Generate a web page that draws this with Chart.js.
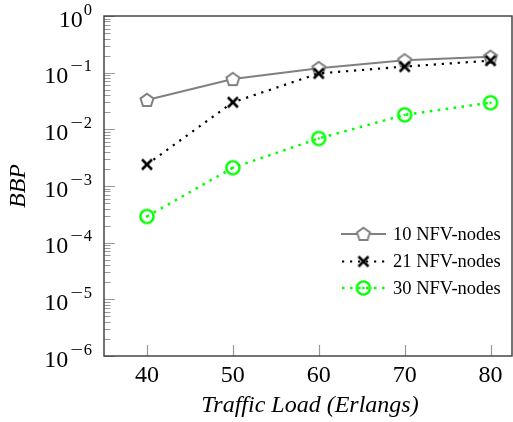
<!DOCTYPE html>
<html>
<head>
<meta charset="utf-8">
<script src="https://cdn.jsdelivr.net/npm/chart.js@4.4.1/dist/chart.umd.min.js"></script>
<style>html,body{margin:0;padding:0;background:#fff}</style>
</head>
<body>
<canvas id="c" width="513" height="422"></canvas>
<script>
const loads = [40, 50, 60, 70, 80];
const nfv10 = [0.033, 0.077, 0.12, 0.165, 0.19];
const nfv21 = [0.0024, 0.030, 0.097, 0.128, 0.163];
const nfv30 = [0.00029, 0.0021, 0.0069, 0.018, 0.0295];
const seriesNames = ['10 NFV-nodes', '21 NFV-nodes', '30 NFV-nodes'];
const xTicks = [40, 50, 60, 70, 80];
const yExponents = [-6, -5, -4, -3, -2, -1, 0];
const yMinor = [2, 3, 4, 5, 6, 7, 8, 9];

const SERIF = '"Liberation Serif", "Times New Roman", serif';

function markCanvas(draw) {
    const c = document.createElement('canvas');
    c.width = 22; c.height = 22;
    const g = c.getContext('2d');
    g.translate(11, 11);
    draw(g);
    return c;
}

const pentagon = markCanvas(g => {
    g.beginPath();
    for (let i = 0; i < 5; i++) {
        const a = -Math.PI / 2 + i * 2 * Math.PI / 5;
        g.lineTo(6.8 * Math.cos(a), 6.8 * Math.sin(a) + 0.6);
    }
    g.closePath();
    g.fillStyle = '#fff';
    g.fill();
    g.strokeStyle = '#808080';
    g.lineWidth = 2;
    g.stroke();
});

const cross = markCanvas(g => {
    g.strokeStyle = '#000';
    g.lineWidth = 2.6;
    g.beginPath();
    g.moveTo(-5, -5); g.lineTo(5, 5);
    g.moveTo(5, -5); g.lineTo(-5, 5);
    g.stroke();
});

const ring = markCanvas(g => {
    g.strokeStyle = '#00ff00';
    g.lineWidth = 2.4;
    g.beginPath();
    g.arc(0, 0, 6.6, 0, Math.PI * 2);
    g.stroke();
    g.fillStyle = '#00ff00';
    g.beginPath();
    g.arc(0, 0, 1.3, 0, Math.PI * 2);
    g.fill();
});

const styles = [
    { color: '#808080', width: 2, dash: [], mark: pentagon },
    { color: '#000000', width: 2.2, dash: [2.2, 5.8], mark: cross },
    { color: '#00ff00', width: 2.5, dash: [2.5, 5.5], mark: ring }
];
const values = [nfv10, nfv21, nfv30];

const datasets = values.map((vals, i) => ({
    label: seriesNames[i],
    data: loads.map((x, j) => ({ x: x, y: vals[j] })),
    borderColor: styles[i].color,
    borderWidth: styles[i].width,
    borderDash: styles[i].dash,
    pointStyle: styles[i].mark,
    pointRadius: 7,
    tension: 0,
    fill: false,
    order: 2 - i
}));

const decorations = {
    id: 'decorations',
    afterDraw(chart) {
        const ctx = chart.ctx;
        const a = chart.chartArea;
        const xs = chart.scales.x, ys = chart.scales.y;
        ctx.save();

        // inner tick marks
        ctx.strokeStyle = '#9a9a9a';
        ctx.lineWidth = 1.2;
        ctx.beginPath();
        ys.ticks.forEach(t => {
            const py = Math.round(ys.getPixelForValue(t.value)) + 0.5;
            const len = t.major ? 11 : 6.5;
            ctx.moveTo(a.left, py); ctx.lineTo(a.left + len, py);
        });
        xs.ticks.forEach(t => {
            const px = Math.round(xs.getPixelForValue(t.value)) + 0.5;
            ctx.moveTo(px, a.bottom); ctx.lineTo(px, a.bottom - 11);
        });
        ctx.stroke();

        // frame
        ctx.strokeStyle = '#3a3a3a';
        ctx.lineWidth = 1.4;
        ctx.strokeRect(a.left, a.top, a.right - a.left, a.bottom - a.top);

        // x tick labels
        ctx.fillStyle = '#000';
        ctx.textAlign = 'center';
        ctx.textBaseline = 'alphabetic';
        ctx.font = '24px ' + SERIF;
        xs.ticks.forEach(t => {
            ctx.fillText(String(t.value), xs.getPixelForValue(t.value), a.bottom + 26);
        });

        // y tick labels 10^n
        ctx.textAlign = 'right';
        yExponents.forEach(e => {
            const py = ys.getPixelForValue(Math.pow(10, e));
            const digit = String(Math.abs(e));
            const eb = py - 1.5;
            ctx.font = '16.5px ' + SERIF;
            let x = 92;
            ctx.fillText(digit, x, eb);
            x -= ctx.measureText(digit).width + 1;
            if (e < 0) {
                ctx.save();
                ctx.translate(x, eb);
                ctx.scale(1.35, 1);
                ctx.fillText('\u2212', 0, 0);
                ctx.restore();
                x -= ctx.measureText('\u2212').width * 1.35 + 2;
            }
            ctx.font = '24px ' + SERIF;
            ctx.fillText('10', x, py + 10.5);
        });

        // axis titles
        ctx.font = 'italic 24px ' + SERIF;
        ctx.textAlign = 'center';
        ctx.textBaseline = 'middle';
        ctx.fillText('Traffic Load (Erlangs)', (a.left + a.right) / 2 + 2, 406);
        ctx.save();
        ctx.translate(19, (a.top + a.bottom) / 2);
        ctx.rotate(-Math.PI / 2);
        ctx.fillText('BBP', 0, 0);
        ctx.restore();

        // legend
        const rows = [234, 261.5, 288];
        ctx.font = '18.5px ' + SERIF;
        ctx.textAlign = 'left';
        styles.forEach((s, i) => {
            const y = rows[i];
            ctx.strokeStyle = s.color;
            ctx.lineWidth = s.width;
            ctx.setLineDash(s.dash);
            ctx.lineDashOffset = s.dash.length ? -1 : 0;
            ctx.beginPath();
            ctx.moveTo(341, y); ctx.lineTo(386, y);
            ctx.stroke();
            ctx.setLineDash([]);
            ctx.drawImage(s.mark, 363.5 - s.mark.width / 2, y - s.mark.height / 2);
            ctx.fillStyle = '#000';
            ctx.fillText(seriesNames[i], 393, y + 1);
        });
        ctx.restore();
    }
};

function draw() {
    new Chart(document.getElementById('c'), {
        type: 'line',
        data: { datasets: datasets },
        options: {
            responsive: false,
            animation: false,
            layout: { autoPadding: false, padding: { top: 16, right: 1, left: 0, bottom: 0 } },
            plugins: { legend: { display: false }, tooltip: { enabled: false } },
            scales: {
                x: {
                    type: 'linear',
                    min: 35,
                    max: 82.5,
                    grid: { display: false, drawTicks: false },
                    border: { display: false },
                    ticks: { display: false },
                    afterBuildTicks: s => { s.ticks = xTicks.map(v => ({ value: v })); },
                    afterFit: s => { s.height = 66; }
                },
                y: {
                    type: 'logarithmic',
                    min: 1e-6,
                    max: 1,
                    grid: { display: false, drawTicks: false },
                    border: { display: false },
                    ticks: { display: false },
                    afterBuildTicks: s => {
                        const t = [];
                        yExponents.forEach(e => {
                            t.push({ value: Math.pow(10, e), major: true });
                            if (e < 0) yMinor.forEach(m => t.push({ value: m * Math.pow(10, e), major: false }));
                        });
                        s.ticks = t;
                    },
                    afterFit: s => { s.width = 104; }
                }
            }
        },
        plugins: [decorations]
    });
}

Promise.all([
    document.fonts.load('24px "Liberation Serif"'),
    document.fonts.load('italic 24px "Liberation Serif"')
]).then(draw, draw);
</script>
</body>
</html>
